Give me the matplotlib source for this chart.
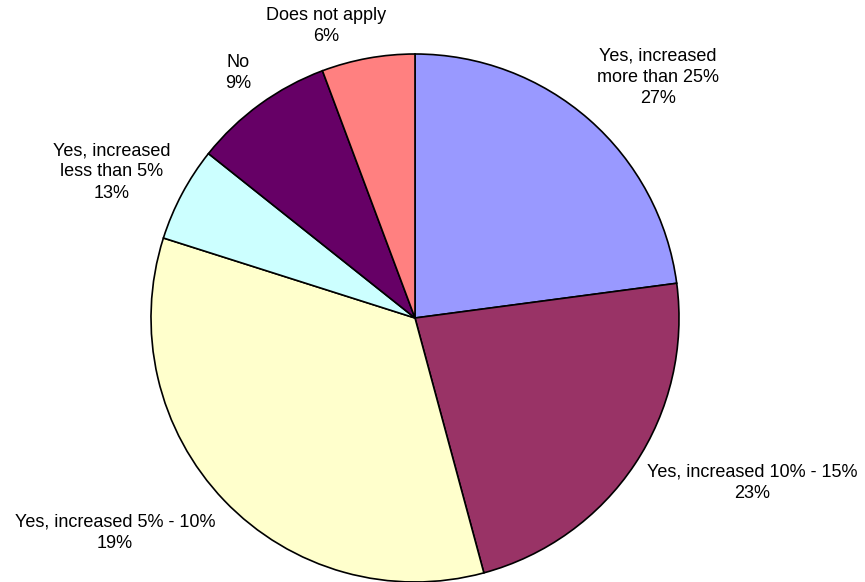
import matplotlib
matplotlib.use("Agg")
import matplotlib.pyplot as plt

categories = ["Yes, increased\nmore than 25%", "Yes, increased 10% - 15%",
              "Yes, increased 5% - 10%", "Yes, increased\nless than 5%",
              "No", "Does not apply"]
slice_values = [22.9, 22.9, 34.1, 5.8, 8.6, 5.7]
pct_labels = ["27%", "23%", "19%", "13%", "9%", "6%"]
colors = ["#9999FF", "#993366", "#FFFFCC", "#CCFFFF", "#660066", "#FF8080"]

W, H = 865, 582
fig = plt.figure(figsize=(W / 100, H / 100), dpi=100)
ax = fig.add_axes([0, 0, 1, 1])

cx, cy, r = 415, H - 318, 264
ax.pie(slice_values, colors=colors, startangle=90, counterclock=False,
       center=(cx, cy), radius=r, frame=True,
       wedgeprops=dict(edgecolor="black", linewidth=1.2))
ax.set_xlim(0, W)
ax.set_ylim(0, H)
ax.set_aspect("equal")
ax.axis("off")

label_pos = [(658, 77), (752, 483), (115, 533), (112, 172), (238, 73), (326, 26)]
for cat, pct, (x, y) in zip(categories, pct_labels, label_pos):
    ax.text(x, H - y, f"{cat}\n{pct}", ha="center", va="center",
            fontsize=13, family=["Liberation Sans", "DejaVu Sans"],
            linespacing=1.32, color="black")

fig.savefig("out.png", dpi=100)
